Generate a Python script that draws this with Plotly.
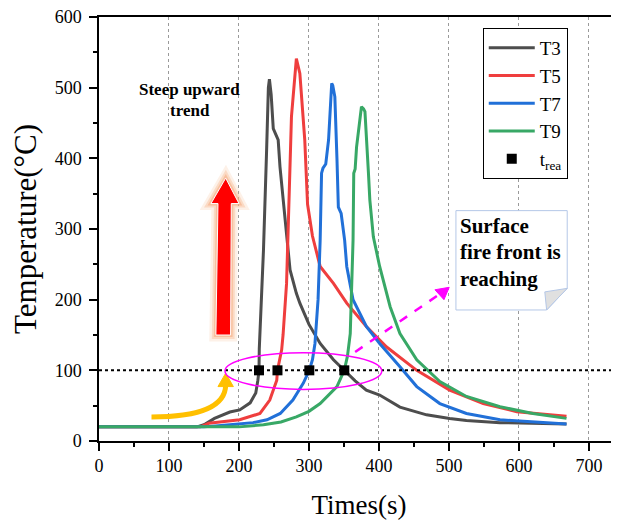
import plotly.graph_objects as go

# ---------------- data ----------------
t3_x = [0, 140, 150, 165, 187, 201, 216, 224, 227, 228.6, 229, 232, 235, 239.5, 242, 243.5, 246, 249, 252, 256,
        258.6, 263, 268, 273, 282, 287, 300, 316, 335, 351, 366, 382, 401, 430, 468, 501, 525, 573, 620, 668]
t3_y = [20, 20, 23, 32, 41, 44, 54, 68, 86, 100, 130, 200, 270, 412, 500, 512, 490, 442, 436, 426,
        388, 341, 289, 242, 209, 195, 165, 138, 115, 100, 85, 72, 65, 48, 37, 32, 29, 26, 25, 24]

t5_x = [0, 145, 157, 180, 201, 230, 244, 254, 255, 261, 263, 268, 275, 282, 287, 294, 298, 305, 316, 335,
        354, 382, 411, 454, 501, 549, 597, 668]
t5_y = [20, 20, 25, 28, 30, 39, 58, 86, 100, 129, 150, 223, 459, 541, 520, 426, 335, 290, 247, 223,
        195, 162, 133, 100, 72, 53, 41.5, 35]

t7_x = [0, 150, 187, 220, 240, 259, 277, 292, 300.5, 305, 308.6, 313, 316, 318, 320, 324, 328, 331, 332.5,
        334, 337, 340, 342, 346, 351, 354, 363, 382, 401, 430, 454, 487, 525, 573, 620, 668]
t7_y = [20, 20, 23, 26, 30, 39, 58, 82, 100, 115, 138, 200, 284, 379, 386, 392, 426, 495, 506,
        503, 487, 400, 331, 322, 284, 247, 200, 162, 138, 105, 77, 53, 39, 30, 27, 24]

t9_x = [0, 200, 235, 260, 282, 300, 316, 340, 350.5, 355, 359, 362, 363, 364, 366, 368, 371, 375, 378, 380,
        385, 387, 392, 401, 416, 430, 454, 487, 525, 573, 620, 668]
t9_y = [20, 20, 23, 27, 34, 42, 53, 77, 100, 120, 152, 250, 284, 379, 385, 416, 440, 473, 470, 466,
        379, 341, 289, 247, 190, 152, 115, 84, 63, 48.5, 39, 32]

trea_x = [228.6, 255, 300.5, 350.5]
trea_y = [100, 100, 100, 100]
threshold = 100

series_names = ["T3", "T5", "T7", "T9"]
colors = ["#4D4D4D", "#EF3E3E", "#2170D8", "#38A866"]

FONT = "Liberation Serif, Times New Roman, serif"

fig = go.Figure()
for name, xs, ys, c in zip(series_names, [t3_x, t5_x, t7_x, t9_x], [t3_y, t5_y, t7_y, t9_y], colors):
    fig.add_trace(go.Scatter(x=xs, y=ys, mode="lines", name=name,
                             line=dict(color=c, width=3)))

fig.add_hline(y=threshold, line=dict(color="black", width=2, dash="dot"), layer="above")

fig.add_trace(go.Scatter(x=trea_x, y=trea_y, mode="markers", name="t<sub>rea</sub>",
                         marker=dict(symbol="square", size=10, color="black")))

shapes = []
# Steep upward trend rounded box
x0, x1, y0, y1, rx, ry = 43, 219, 440, 529, 17, 17
path = (f"M {x0+rx},{y1} L {x1-rx},{y1} Q {x1},{y1} {x1},{y1-ry} L {x1},{y0+ry} Q {x1},{y0} {x1-rx},{y0} "
        f"L {x0+rx},{y0} Q {x0},{y0} {x0},{y0+ry} L {x0},{y1-ry} Q {x0},{y1} {x0+rx},{y1} Z")
shapes.append(dict(type="path", path=path, xref="x", yref="y", fillcolor="white",
                   line=dict(color="#C8753A", width=1.3), layer="above"))

# red arrow glow + body
arrow = "M 167,150 L 188,150 L 189,336 L 200,336 L 181,372 L 160,336 L 170,336 Z"
for w, col in [(13, "rgba(248,190,150,0.22)"), (8, "rgba(246,175,130,0.35)"), (4, "rgba(245,165,120,0.5)")]:
    shapes.append(dict(type="path", path=arrow, xref="x", yref="y", fillcolor="rgba(0,0,0,0)",
                       line=dict(color=col, width=w), layer="above"))
shapes.append(dict(type="path", path=arrow, xref="x", yref="y", fillcolor="#FF0000",
                   line=dict(color="white", width=1), layer="above"))

# yellow curved arrow
shapes.append(dict(type="path", path="M 75,34 Q 180,34 181,79", xref="x", yref="y",
                   line=dict(color="#FFC000", width=5), layer="above"))
shapes.append(dict(type="path", path="M 170,77 L 192,77 L 181,96 Z", xref="x", yref="y",
                   fillcolor="#FFC000", line=dict(color="#FFC000", width=1), layer="above"))

# magenta ellipse
shapes.append(dict(type="circle", x0=180, x1=404, y0=73, y1=125, xref="x", yref="y",
                   line=dict(color="#FF00FF", width=1.5), layer="above"))
# magenta dashed arrow
shapes.append(dict(type="line", x0=366, y0=126, x1=487, y1=208, xref="x", yref="y",
                   line=dict(color="#FF00FF", width=2.5, dash="dash"), layer="above"))
shapes.append(dict(type="path", path="M 500.4,217.5 L 480,214 L 492.9,200 Z", xref="x", yref="y",
                   fillcolor="#FF00FF", line=dict(color="#FF00FF", width=1), layer="above"))

# surface fire front box with folded corner
shapes.append(dict(type="path", path="M 510,326 L 669,326 L 669,216 L 639.6,185.4 L 510,185.4 Z",
                   xref="x", yref="y", fillcolor="white", line=dict(color="#B4C7E7", width=1), layer="above"))
shapes.append(dict(type="path", path="M 639.6,185.4 L 637,211 L 669,216 Z",
                   xref="x", yref="y", fillcolor="#E0E0E0", line=dict(color="#B4C7E7", width=1), layer="above"))

annotations = []
for txt, yv in [("Steep upward", 497), ("trend", 468)]:
    annotations.append(dict(x=130, y=yv, xref="x", yref="y", text=f"<b>{txt}</b>", showarrow=False,
                            xanchor="center", yanchor="middle", font=dict(family=FONT, size=17, color="black")))
for txt, yv in [("Surface", 304), ("fire front is", 267), ("reaching", 229)]:
    annotations.append(dict(x=513, y=yv, xref="x", yref="y", text=f"<b>{txt}</b>", showarrow=False,
                            xanchor="left", yanchor="middle", font=dict(family=FONT, size=21, color="black")))

# page body has an 8px margin: size the figure so the plot area lands where the reference has it
fig.update_layout(
    width=611, height=512,
    margin=dict(l=91, r=0, t=9, b=79),
    paper_bgcolor="white", plot_bgcolor="white",
    font=dict(family=FONT, color="black"),
    showlegend=True,
    legend=dict(x=0.738, y=0.974, xanchor="left", yanchor="top", bgcolor="white",
                bordercolor="black", borderwidth=1, font=dict(family=FONT, size=19, color="black"),
                tracegroupgap=0, itemwidth=46),
    shapes=shapes,
    annotations=annotations,
)
fig.update_xaxes(range=[0, 743], tickvals=[0, 100, 200, 300, 400, 500, 600, 700],
                 showline=True, linecolor="black", linewidth=1.5, mirror=True,
                 ticks="outside", ticklen=8, tickwidth=1.5, tickcolor="black",
                 minor=dict(ticks="outside", ticklen=4, dtick=50, tick0=0, tickcolor="black", showgrid=False),
                 showgrid=True, gridcolor="#9A9A9A", griddash="dot", gridwidth=1,
                 zeroline=False, tickfont=dict(family=FONT, size=18, color="black"),
                 ticklabeloverflow="allow",
                 title=dict(text="Times(s)", font=dict(family=FONT, size=27, color="black"), standoff=20))
fig.update_yaxes(range=[0, 600], tickvals=[0, 100, 200, 300, 400, 500, 600],
                 showline=True, linecolor="black", linewidth=1.5,
                 ticks="outside", ticklen=8, tickwidth=1.5, tickcolor="black",
                 minor=dict(ticks="outside", ticklen=4, dtick=50, tick0=0, tickcolor="black", showgrid=False),
                 showgrid=False, zeroline=False, tickfont=dict(family=FONT, size=18, color="black"),
                 ticklabelstandoff=4, ticklabeloverflow="allow",
                 title=dict(text="Temperature(°C)", font=dict(family=FONT, size=31, color="black"), standoff=18))

fig.write_html("out.html")
